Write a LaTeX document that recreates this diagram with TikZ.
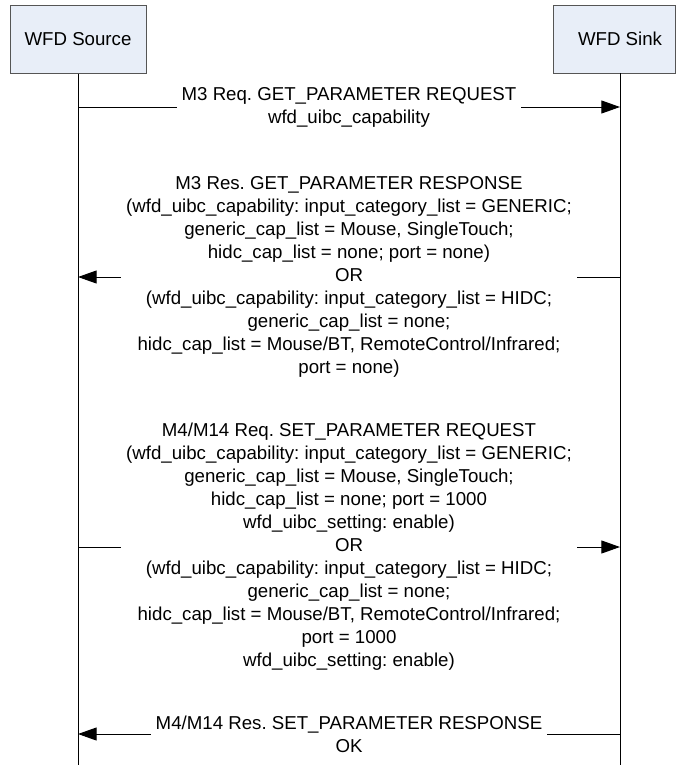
\documentclass[tikz,border=0pt]{standalone}
\usepackage{fontspec}
\setmainfont{Liberation Sans}
\usetikzlibrary{arrows.meta}
\definecolor{actorfill}{HTML}{E8EEF8}
\definecolor{actorline}{HTML}{555555}
\frenchspacing
\begin{document}
\begin{tikzpicture}[x=0.75pt,y=-0.75pt,
  actor/.style={draw=actorline, fill=actorfill, line width=0.75pt,
    minimum height=51pt, inner sep=0pt, font=\fontsize{14}{17}\selectfont},
  lifeline/.style={line width=0.75pt},
  msgline/.style={line width=0.75pt, -{Triangle[length=14pt,width=9.75pt]}},
  msgtext/.style={fill=white, align=center, inner xsep=3.75pt, inner ysep=0pt,
    font=\fontsize{14}{17.25}\selectfont}]
\fill[white] (0,0) rectangle (676,765);
\useasboundingbox (0,0) rectangle (676,765);

% participants
\node[actor, minimum width=102pt] (src) at (78,39) {WFD Source};
\node[actor, minimum width=91.5pt] (snk) at (614,39) {\hspace*{9pt}WFD Sink};

% lifelines
\coordinate (snktop) at (620,73);
\coordinate (srcend) at (78,765);
\coordinate (snkend) at (620,765);
\draw[lifeline] (src.south) -- (srcend);
\draw[lifeline] (snktop) -- (snkend);

% message anchors on the lifelines
\coordinate (m1s) at (78,107);  \coordinate (m1t) at (620,107);
\coordinate (m2s) at (78,277);  \coordinate (m2t) at (620,277);
\coordinate (m3s) at (78,547);  \coordinate (m3t) at (620,547);
\coordinate (m4s) at (78,734);  \coordinate (m4t) at (620,734);

% M3 request
\draw[msgline] (m1s) -- (m1t);
\node[msgtext] (m1) at (349,107) {M3 Req. GET\_PARAMETER REQUEST\\wfd\_uibc\_capability};

% M3 response
\draw[msgline] (m2t) -- (m2s);
\node[msgtext] (m2) at (349,277) {M3 Res. GET\_PARAMETER RESPONSE\\
(wfd\_uibc\_capability: input\_category\_list = GENERIC;\\
generic\_cap\_list = Mouse, SingleTouch;\\
hidc\_cap\_list = none; port = none)\\
OR\\
(wfd\_uibc\_capability: input\_category\_list = HIDC;\\
generic\_cap\_list = none;\\
hidc\_cap\_list = Mouse/BT, RemoteControl/Infrared;\\
port = none)};

% M4/M14 request
\draw[msgline] (m3s) -- (m3t);
\node[msgtext] (m3) at (349,547) {M4/M14 Req. SET\_PARAMETER REQUEST\\
(wfd\_uibc\_capability: input\_category\_list = GENERIC;\\
generic\_cap\_list = Mouse, SingleTouch;\\
hidc\_cap\_list = none; port = 1000\\
wfd\_uibc\_setting: enable)\\
OR\\
(wfd\_uibc\_capability: input\_category\_list = HIDC;\\
generic\_cap\_list = none;\\
hidc\_cap\_list = Mouse/BT, RemoteControl/Infrared;\\
port = 1000\\
wfd\_uibc\_setting: enable)};

% M4/M14 response
\draw[msgline] (m4t) -- (m4s);
\node[msgtext] (m4) at (349,734) {M4/M14 Res. SET\_PARAMETER RESPONSE\\OK};
\end{tikzpicture}
\end{document}
